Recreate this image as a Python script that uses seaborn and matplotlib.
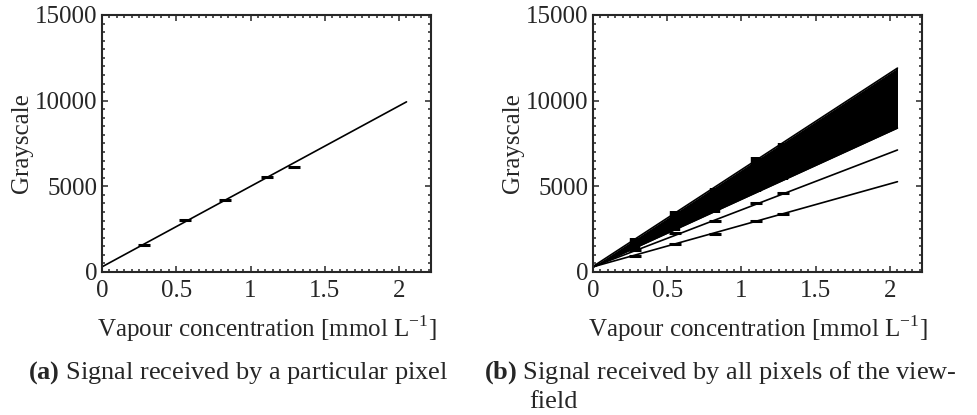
import numpy as np
import matplotlib
matplotlib.use('Agg')
import matplotlib.pyplot as plt
import seaborn as sns
from matplotlib.ticker import MultipleLocator, FormatStrFormatter

sns.set_style('ticks')
plt.rcParams['font.family'] = ['Liberation Serif', 'DejaVu Serif']
plt.rcParams['mathtext.fontset'] = 'custom'
plt.rcParams['mathtext.rm'] = 'Liberation Serif'
plt.rcParams['mathtext.bf'] = 'Liberation Serif:bold'

# (a) one pixel: calibration points and fitted line
conc_pts = [0.28, 0.56, 0.83, 1.11, 1.29]
pixel_pts = [1580, 3030, 4200, 5530, 6150]
fit_x = [0.0, 2.05]
fit_y = [300, 9930]

# (b) all pixels: envelope of the dense bundle of fitted lines
fan_x = [0.0, 2.05]
fan_low = [280, 8400]
fan_high = [320, 11900]
# stacked calibration markers of the bundle (low / high extent at each x)
fan_pts_x = [0.28, 0.55, 0.82, 1.10, 1.28]
fan_pts_low = [1350, 2420, 3450, 4650, 5350]
fan_pts_high = [1980, 3560, 4900, 6700, 7550]
# two outlying pixels
line2_y = [300, 7120]
line2_pts = [1280, 2260, 2980, 4010, 4590]
line3_y = [300, 5270]
line3_pts = [935, 1620, 2220, 2980, 3370]

fig = plt.figure(figsize=(9.78, 4.15), dpi=100)
ax_a = fig.add_axes([0.1043, 0.3446, 0.3364, 0.6193])
ax_b = fig.add_axes([0.6063, 0.3446, 0.3364, 0.6193])

fs = 18
cap_fs = 19

# panel (a)
sns.lineplot(x=fit_x, y=fit_y, ax=ax_a, color='black', linewidth=1.2)
sns.scatterplot(x=conc_pts, y=pixel_pts, ax=ax_a, marker='_', s=70, color='black', linewidth=2.2)

# panel (b)
ax_b.fill_between(fan_x, fan_low, fan_high, color='black', linewidth=0)
sns.lineplot(x=fan_x, y=fan_low, ax=ax_b, color='black', linewidth=1.2)
sns.lineplot(x=fan_x, y=fan_high, ax=ax_b, color='black', linewidth=1.2)
ax_b.vlines(fan_x[-1], fan_low[-1], fan_high[-1], color='black', linewidth=1.2)
ax_b.vlines(fan_pts_x, fan_pts_low, fan_pts_high, color='black', linewidth=7.5)
sns.lineplot(x=fit_x, y=line2_y, ax=ax_b, color='black', linewidth=1.2)
sns.lineplot(x=fit_x, y=line3_y, ax=ax_b, color='black', linewidth=1.2)
sns.scatterplot(x=fan_pts_x, y=line2_pts, ax=ax_b, marker='_', s=70, color='black', linewidth=2.2)
sns.scatterplot(x=fan_pts_x, y=line3_pts, ax=ax_b, marker='_', s=70, color='black', linewidth=2.2)

for ax in (ax_a, ax_b):
    ax.set_xlim(0, 2.215)
    ax.set_ylim(0, 15000)
    ax.xaxis.set_major_locator(MultipleLocator(0.5))
    ax.xaxis.set_minor_locator(MultipleLocator(0.05))
    ax.xaxis.set_major_formatter(FormatStrFormatter('%g'))
    ax.yaxis.set_major_locator(MultipleLocator(5000))
    ax.yaxis.set_minor_locator(MultipleLocator(500))
    ax.tick_params(which='both', direction='in', top=True, right=True, width=1.1, labelsize=fs)
    ax.tick_params(which='major', length=4.5)
    ax.tick_params(which='minor', length=2)
    ax.tick_params(axis='x', pad=6)
    ax.tick_params(axis='y', pad=3)
    for sp in ax.spines.values():
        sp.set_linewidth(1.5)
        sp.set_visible(True)
    ax.set_xlabel(r'Vapour concentration [mmol L$^{\mathregular{-1}}$]', fontsize=fs, labelpad=8)
    ax.set_ylabel('Grayscale', fontsize=fs, labelpad=2)

fig.text(0.029, 1 - 373 / 415, r'$\mathbf{(a)}$ Signal received by a particular pixel',
         fontsize=cap_fs, va='center', ha='left')
fig.text(0.495, 1 - 373 / 415, r'$\mathbf{(b)}$ Signal received by all pixels of the view-',
         fontsize=cap_fs, va='center', ha='left')
fig.text(0.541, 1 - 402 / 415, 'field', fontsize=cap_fs, va='center', ha='left')

fig.savefig('out.png', dpi=100)
